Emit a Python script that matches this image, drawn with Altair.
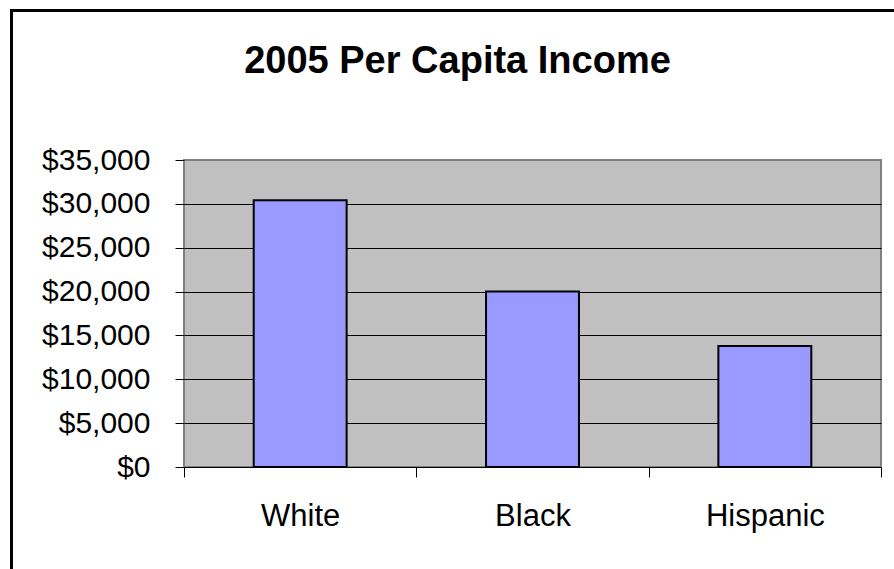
import altair as alt
import pandas as pd

categories = ["White", "Black", "Hispanic"]
incomes = [30400, 20000, 13800]
y_ticks = [0, 5000, 10000, 15000, 20000, 25000, 30000, 35000]
title_text = "2005 Per Capita Income"

df = pd.DataFrame({"group": categories, "income": incomes})
FONT = "Liberation Sans"

bars = alt.Chart(df).mark_bar(
    width=alt.RelativeBandSize(0.4),
    fill="#9999FF",
    stroke="black",
    strokeWidth=2,
).encode(
    x=alt.X(
        "group:N",
        sort=categories,
        title=None,
        scale=alt.Scale(paddingInner=0, paddingOuter=0),
        axis=alt.Axis(
            tickBand="extent",
            labelAngle=0,
            labelFont=FONT,
            labelFontSize=31,
            labelColor="black",
            labelPadding=24,
            tickSize=10,
            tickColor="black",
            tickWidth=1,
            domain=False,
            grid=False,
        ),
    ),
    y=alt.Y(
        "income:Q",
        title=None,
        scale=alt.Scale(domain=[0, 35000], nice=False),
        axis=alt.Axis(
            values=y_ticks,
            format="$,.0f",
            labelFont=FONT,
            labelFontSize=30,
            labelColor="black",
            labelPadding=25,
            tickSize=9,
            tickColor="black",
            tickWidth=1,
            domain=False,
            grid=True,
            gridColor={"condition": {"test": "datum.value === 35000", "value": "#808080"}, "value": "black"},
            gridWidth=1,
            gridOpacity=1,
        ),
    ),
)

frame = alt.Chart(alt.Data(values=[{}])).mark_rect(
    fill=None, stroke="black", strokeWidth=3
).encode(
    x=alt.value(-172.5),
    y=alt.value(-149.5),
    x2=alt.value(760),
    y2=alt.value(500),
)

chart = alt.layer(bars, frame).properties(
    width=697,
    height=307,
    padding={"left": 184, "top": 160, "right": 13, "bottom": 102},
    autosize=alt.AutoSizeParams(type="none"),
    background="white",
    title=alt.TitleParams(
        title_text,
        font=FONT,
        fontSize=38,
        fontWeight="bold",
        color="black",
        anchor="middle",
        baseline="alphabetic",
        dx=-75,
        dy=102,
        offset=0,
    ),
).configure_view(
    fill="#C0C0C0",
    stroke="#808080",
    strokeWidth=2,
)

chart.save("out.html", embed_options={"renderer": "svg", "actions": False})
